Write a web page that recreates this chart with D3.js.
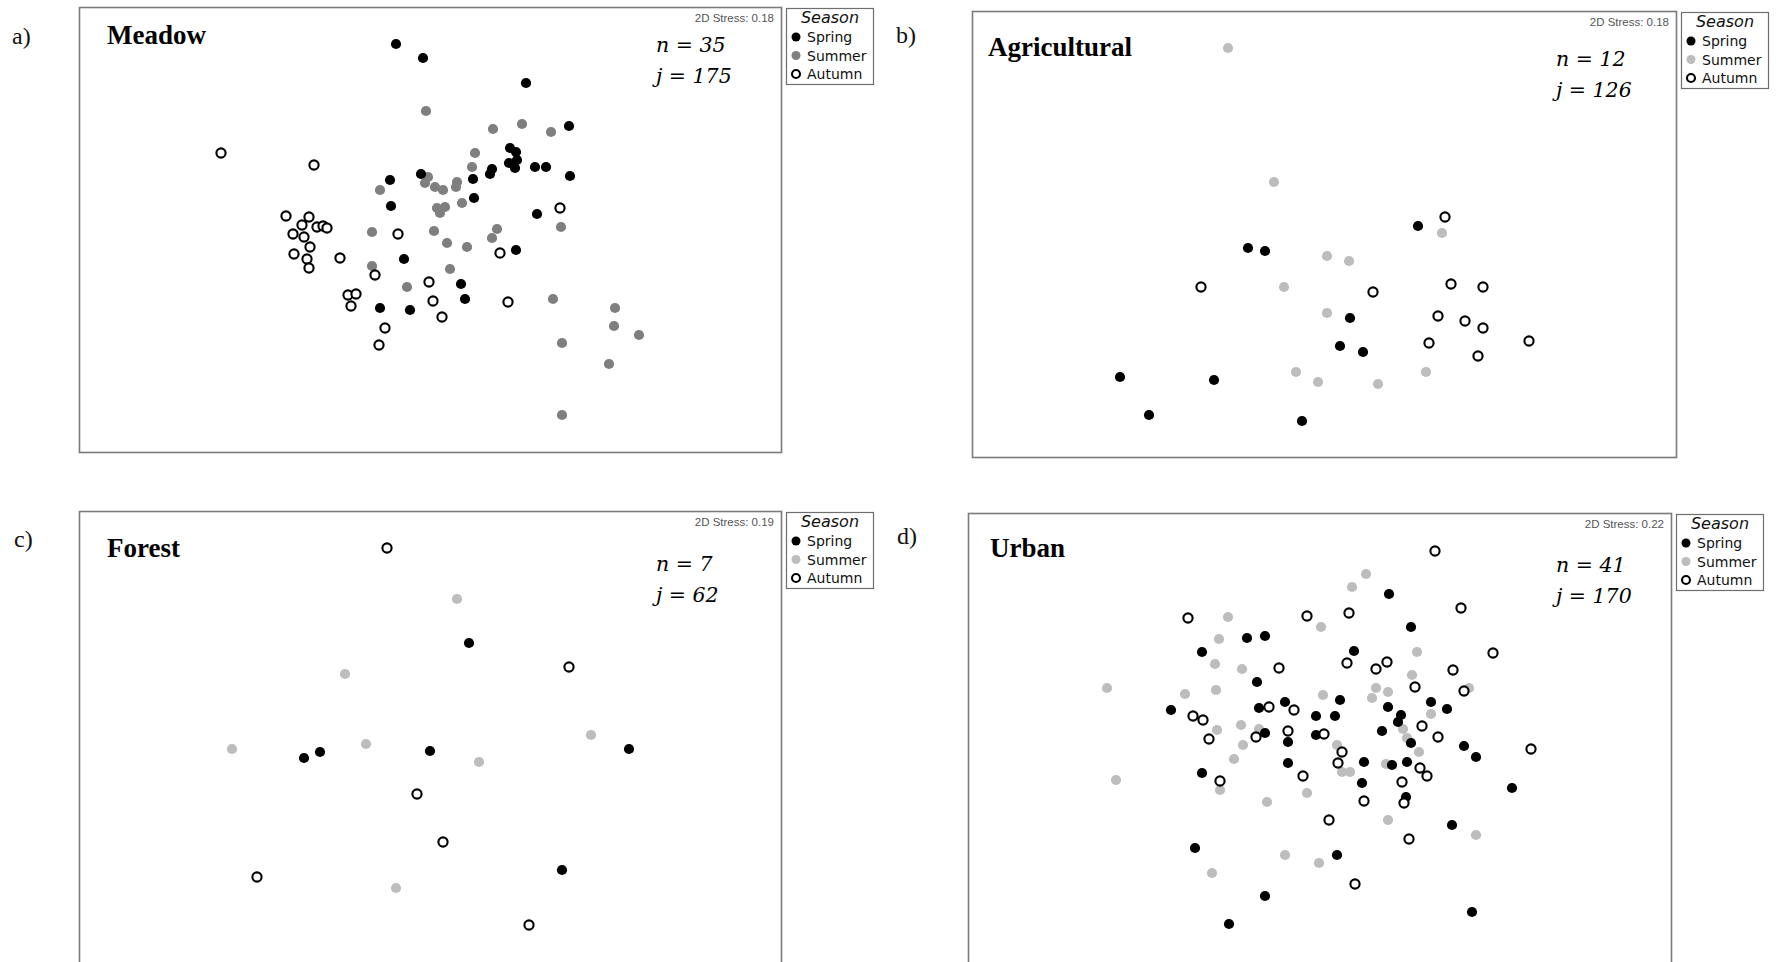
<!DOCTYPE html>
<html>
<head>
<meta charset="utf-8">
<script src="https://cdn.jsdelivr.net/npm/d3@7"></script>
<style>
  html, body { margin: 0; padding: 0; background: #fff; overflow: hidden; }
  svg { display: block; }
</style>
</head>
<body>
<svg id="chart" width="1776" height="962"></svg>
<script>
// ---- data -------------------------------------------------------------
const seasons = ["Spring", "Summer", "Autumn"];
const habitats = ["Meadow", "Agricultural", "Forest", "Urban"];
const panelLetters = ["a)", "b)", "c)", "d)"];
const siteCounts = [35, 12, 7, 41];
const speciesCounts = [175, 126, 62, 170];
const stressValues = [0.18, 0.18, 0.19, 0.22];

// NMDS ordination extents shown in each panel
const xDomains = [[-3.51, 3.51], [-3.52, 3.52], [-3.51, 3.51], [-3.52, 3.51]];
const yDomains = [[-2.22, 2.23], [-2.23, 2.23], [-2.36, 2.23], [-2.34, 2.23]];

// site scores [NMDS1, NMDS2]
const meadowSpring = [
  [-0.34, 1.86], [-0.07, 1.72], [-0.40, 0.50], [-0.09, 0.56], [-0.39, 0.24],
  [-0.26, -0.29], [-0.50, -0.78], [-0.20, -0.80], [0.96, 1.47], [1.39, 1.04],
  [0.80, 0.82], [0.86, 0.78], [0.79, 0.67], [0.87, 0.70], [0.85, 0.62],
  [0.62, 0.61], [0.60, 0.56], [1.05, 0.63], [1.16, 0.63], [1.40, 0.54],
  [0.43, 0.51], [0.44, 0.32], [1.07, 0.16], [0.86, -0.20], [0.31, -0.54],
  [0.35, -0.69]
];
const meadowSummer = [
  [-0.04, 1.19], [-0.50, 0.40], [-0.02, 0.53], [-0.05, 0.47], [0.05, 0.43],
  [0.13, 0.40], [0.27, 0.48], [0.26, 0.43], [0.07, 0.22], [0.15, 0.23],
  [0.10, 0.17], [0.32, 0.27], [0.04, -0.01], [0.17, -0.13], [0.37, -0.17],
  [0.20, -0.39], [-0.58, -0.02], [-0.58, -0.36], [-0.23, -0.57], [0.45, 0.77],
  [0.42, 0.63], [0.63, 1.01], [0.92, 1.06], [1.21, 0.98], [0.67, 0.01],
  [0.62, -0.08], [1.31, 0.03], [1.23, -0.69], [1.85, -0.78], [1.84, -0.96],
  [2.09, -1.05], [1.32, -1.13], [1.79, -1.34], [1.32, -1.85]
];
const meadowAutumn = [
  [-2.09, 0.77], [-1.16, 0.65], [-1.44, 0.14], [-1.21, 0.13], [-1.28, 0.05],
  [-1.13, 0.03], [-1.07, 0.04], [-1.03, 0.02], [-1.37, -0.04], [-1.26, -0.07],
  [-1.20, -0.17], [-1.36, -0.24], [-1.23, -0.29], [-1.21, -0.38], [-0.90, -0.28],
  [-0.32, -0.04], [-0.55, -0.45], [-0.82, -0.65], [-0.74, -0.64], [-0.79, -0.76],
  [-0.45, -0.98], [-0.51, -1.15], [-0.01, -0.52], [0.03, -0.71], [1.30, 0.22],
  [0.70, -0.23], [0.12, -0.87], [0.78, -0.72]
];

const agriSpring = [
  [-0.76, -0.14], [-0.59, -0.17], [-2.04, -1.43], [-1.10, -1.46], [-1.75, -1.81],
  [-0.22, -1.87], [0.94, 0.08], [0.26, -0.84], [0.16, -1.12], [0.39, -1.18]
];
const agriSummer = [
  [-0.96, 1.86], [-0.50, 0.52], [-0.40, -0.53], [0.03, -0.22], [0.03, -0.79],
  [-0.28, -1.38], [-0.06, -1.48], [0.25, -0.27], [1.18, 0.01], [1.02, -1.38],
  [0.54, -1.50]
];
const agriAutumn = [
  [-1.23, -0.53], [1.21, 0.17], [0.49, -0.58], [1.27, -0.50], [1.59, -0.53],
  [1.14, -0.82], [1.41, -0.87], [1.59, -0.94], [1.05, -1.09], [1.54, -1.22],
  [2.05, -1.07]
];

const forestSpring = [
  [-1.26, -0.24], [-1.10, -0.18], [0.00, -0.17], [0.39, 0.91], [1.99, -0.15],
  [1.32, -1.36]
];
const forestSummer = [
  [-0.85, 0.60], [-1.98, -0.15], [-0.64, -0.10], [-0.34, -1.54], [0.27, 1.35],
  [1.61, -0.01], [0.49, -0.28]
];
const forestAutumn = [
  [-0.43, 1.86], [-0.13, -0.60], [-1.73, -1.43], [1.39, 0.67], [0.13, -1.08],
  [0.99, -1.91]
];

const urbanSpring = [
  [-0.55, 1.00], [-0.73, 0.98], [-1.18, 0.84], [-0.63, 0.54], [-0.35, 0.34],
  [-0.61, 0.28], [-1.49, 0.26], [-0.04, 0.20], [-0.55, 0.03], [-0.32, -0.06],
  [-0.04, 0.01], [-0.32, -0.27], [-1.18, -0.37], [-1.25, -1.12], [-0.55, -1.60],
  [-0.91, -1.88], [0.69, 1.42], [0.91, 1.09], [0.34, 0.85], [0.20, 0.36],
  [0.15, 0.20], [0.68, 0.29], [0.81, 0.21], [0.78, 0.14], [1.11, 0.34],
  [1.27, 0.27], [0.62, 0.05], [0.91, -0.07], [1.44, -0.10], [1.56, -0.21],
  [0.44, -0.26], [0.72, -0.29], [0.87, -0.26], [0.42, -0.47], [0.86, -0.61],
  [1.92, -0.52], [1.32, -0.89], [0.17, -1.19], [1.52, -1.76]
];
const urbanSummer = [
  [-0.92, 1.19], [0.01, 1.09], [-1.01, 0.97], [-1.05, 0.72], [-0.78, 0.67],
  [-2.13, 0.48], [-1.35, 0.42], [-1.04, 0.46], [0.03, 0.41], [-1.03, 0.06],
  [-0.79, 0.11], [-0.61, 0.07], [-0.77, -0.09], [-0.86, -0.23], [-1.00, -0.54],
  [-0.53, -0.66], [-0.13, -0.57], [-2.04, -0.44], [-0.35, -1.19], [-0.01, -1.27],
  [-1.08, -1.37], [0.46, 1.62], [0.32, 1.49], [0.97, 0.84], [0.92, 0.61],
  [1.49, 0.48], [0.56, 0.48], [0.52, 0.38], [0.68, 0.44], [1.11, 0.22],
  [0.83, 0.07], [0.87, -0.02], [0.99, -0.16], [0.17, -0.09], [0.22, -0.36],
  [0.30, -0.36], [0.66, -0.28], [0.68, -0.84], [1.56, -0.99]
];
const urbanAutumn = [
  [-1.32, 1.18], [-0.13, 1.20], [-0.41, 0.68], [-0.51, 0.29], [-0.26, 0.26],
  [-1.27, 0.20], [-1.17, 0.16], [-1.11, -0.03], [-0.64, -0.01], [-0.32, 0.05],
  [0.04, 0.02], [-1.00, -0.45], [-0.17, -0.40], [1.15, 1.85], [1.41, 1.28],
  [0.29, 1.23], [1.73, 0.83], [0.27, 0.73], [0.56, 0.67], [0.67, 0.74],
  [1.33, 0.66], [0.95, 0.49], [1.44, 0.45], [1.02, 0.10], [1.18, -0.01],
  [0.22, -0.16], [0.18, -0.27], [1.00, -0.32], [1.07, -0.40], [0.82, -0.46],
  [0.44, -0.65], [0.84, -0.67], [0.09, -0.84], [0.89, -1.03], [0.35, -1.48],
  [2.11, -0.13]
];

const panelSeries = [
  { Spring: meadowSpring, Summer: meadowSummer, Autumn: meadowAutumn },
  { Spring: agriSpring,   Summer: agriSummer,   Autumn: agriAutumn },
  { Spring: forestSpring, Summer: forestSummer, Autumn: forestAutumn },
  { Spring: urbanSpring,  Summer: urbanSummer,  Autumn: urbanAutumn }
];

// ---- layout & style ---------------------------------------------------
const frames = [
  { x: 79,  y: 7,   w: 702, h: 445 },
  { x: 972, y: 11,  w: 704, h: 446 },
  { x: 79,  y: 511, w: 702, h: 459 },
  { x: 968, y: 513, w: 703, h: 457 }
];
const letterPos = [[12, 44], [896, 43], [14, 547], [897, 544]];
const titlePos  = [[107, 44], [988, 56], [107, 557], [990, 557]];
const countPos  = [[656, 52], [1556, 66], [656, 571], [1556, 572]];
const summerFill = ["#7f7f7f", "#bdbdbd", "#bdbdbd", "#bdbdbd"];
const drawOrder = ["Summer", "Spring", "Autumn"];

const serif = "'Liberation Serif', 'Times New Roman', serif";
const serifItalic = "'DejaVu Serif', serif";
const sans = "'Liberation Sans', Arial, sans-serif";
const legendSans = "'DejaVu Sans', sans-serif";

const svg = d3.select("#chart");

function styleMark(sel, season, i) {
  if (season === "Autumn") {
    sel.attr("r", 4.6).attr("fill", "#fff").attr("stroke", "#000").attr("stroke-width", 2.1);
  } else {
    sel.attr("r", 5.1).attr("stroke", "none")
       .attr("fill", season === "Spring" ? "#000" : summerFill[i]);
  }
}

frames.forEach((f, i) => {
  const g = svg.append("g").attr("class", "panel");

  const x = d3.scaleLinear().domain(xDomains[i]).range([f.x, f.x + f.w]);
  const y = d3.scaleLinear().domain(yDomains[i]).range([f.y + f.h, f.y]);

  // panel letter
  svg.append("text")
    .attr("x", letterPos[i][0]).attr("y", letterPos[i][1])
    .attr("font-family", serif).attr("font-size", 24).attr("fill", "#111")
    .text(panelLetters[i]);

  // plot frame
  g.append("rect")
    .attr("x", f.x + 0.5).attr("y", f.y + 0.5)
    .attr("width", f.w).attr("height", f.h)
    .attr("fill", "#fff").attr("stroke", "#7a7a7a").attr("stroke-width", 1.6);

  // points
  drawOrder.forEach(season => {
    g.append("g").attr("class", season)
      .selectAll("circle")
      .data(panelSeries[i][season])
      .join("circle")
      .attr("cx", d => x(d[0]))
      .attr("cy", d => y(d[1]))
      .call(styleMark, season, i);
  });

  // habitat title
  g.append("text")
    .attr("x", titlePos[i][0]).attr("y", titlePos[i][1])
    .attr("font-family", serif).attr("font-weight", "bold")
    .attr("font-size", 27).attr("fill", "#000")
    .text(habitats[i]);

  // sites / species counts
  const ct = g.append("text")
    .attr("font-family", serifItalic).attr("font-style", "italic")
    .attr("font-size", 20.5).attr("fill", "#000");
  ct.append("tspan").attr("x", countPos[i][0]).attr("y", countPos[i][1])
    .text("n = " + siteCounts[i]);
  ct.append("tspan").attr("x", countPos[i][0]).attr("y", countPos[i][1] + 31)
    .text("j = " + speciesCounts[i]);

  // stress
  g.append("text")
    .attr("x", f.x + f.w - 7).attr("y", f.y + 15)
    .attr("text-anchor", "end")
    .attr("font-family", sans).attr("font-size", 11.5).attr("fill", "#555")
    .text("2D Stress: " + d3.format(".2f")(stressValues[i]));

  // legend
  const lx = f.x + f.w + 5, ly = f.y + 1;
  const lg = svg.append("g").attr("class", "legend")
    .attr("transform", `translate(${lx},${ly})`);
  lg.append("rect")
    .attr("x", 0.5).attr("y", 0.5).attr("width", 87).attr("height", 76)
    .attr("fill", "#fff").attr("stroke", "#6e6e6e").attr("stroke-width", 1.2);
  lg.append("text")
    .attr("x", 44).attr("y", 15).attr("text-anchor", "middle")
    .attr("font-family", legendSans).attr("font-style", "italic")
    .attr("font-size", 16).attr("fill", "#111")
    .text("Season");
  const rows = lg.selectAll("g.row").data(seasons).join("g")
    .attr("class", "row")
    .attr("transform", (d, k) => `translate(0,${29 + k * 18.5})`);
  rows.append("circle").attr("cx", 10).attr("cy", 0)
    .each(function (d) { d3.select(this).call(styleMark, d, i); })
    .attr("r", function (d) { return d === "Autumn" ? 4.0 : 4.5; });
  rows.append("text")
    .attr("x", 21).attr("y", 5)
    .attr("font-family", legendSans).attr("font-size", 14).attr("fill", "#111")
    .text(d => d);
});
</script>
</body>
</html>
